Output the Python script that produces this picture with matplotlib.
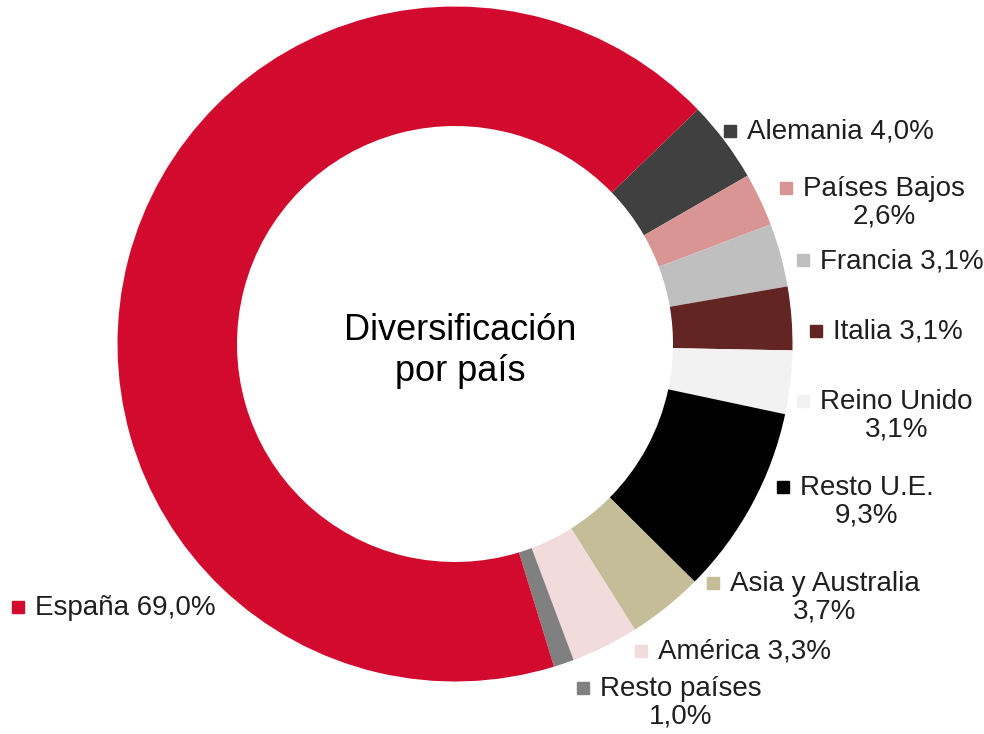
import matplotlib
matplotlib.use("Agg")
import matplotlib.pyplot as plt

# data
paises = ["Alemania", "Países Bajos", "Francia", "Italia", "Reino Unido",
          "Resto U.E.", "Asia y Australia", "América", "Resto países", "España"]
pesos = [4.0, 2.6, 3.1, 3.1, 3.1, 9.3, 3.7, 3.3, 1.0, 69.0]
etiquetas = ["Alemania 4,0%", "Países Bajos\n2,6%", "Francia 3,1%", "Italia 3,1%",
             "Reino Unido\n3,1%", "Resto U.E.\n9,3%", "Asia y Australia\n3,7%",
             "América 3,3%", "Resto países\n1,0%", "España 69,0%"]
colores = ["#404040", "#D99594", "#BFBFBF", "#632523", "#F2F2F2",
           "#000000", "#C4BD97", "#F2DCDB", "#808080", "#D20A2E"]

# label key positions (pixels, from top-left of the image)
pos_clave = [(730, 131), (786, 188), (803, 260), (816, 331), (803, 401),
             (783, 487), (713, 583), (641, 651), (583, 688), (18, 607)]

W, H = 984, 734
plt.rcParams["font.family"] = ["Liberation Sans", "DejaVu Sans"]

fig = plt.figure(figsize=(W / 100, H / 100), dpi=100)
ax = fig.add_axes([0, 0, 1, 1])

cx, cy, r_ext, r_int = 455, 344, 337.5, 218
ax.pie(pesos, colors=colores, startangle=44, counterclock=False,
       center=(cx, H - cy), radius=r_ext,
       wedgeprops=dict(width=r_ext - r_int, linewidth=0))

for (kx, ky), txt, col in zip(pos_clave, etiquetas, colores):
    ax.plot(kx, H - ky, marker="s", markersize=9, color=col, linestyle="none")
    ax.text(kx + 17, H - ky + 12, txt, ha="left", va="top", multialignment="center",
            fontsize=20, color="#1f1f1f", linespacing=1.08)

ax.text(cx + 5, H - 351, "Diversificación\npor país", ha="center", va="center",
        fontsize=26, color="black", linespacing=1.2)

ax.set_xlim(0, W)
ax.set_ylim(0, H)
ax.set_aspect("equal")
ax.axis("off")

fig.savefig("out.png", dpi=100)
